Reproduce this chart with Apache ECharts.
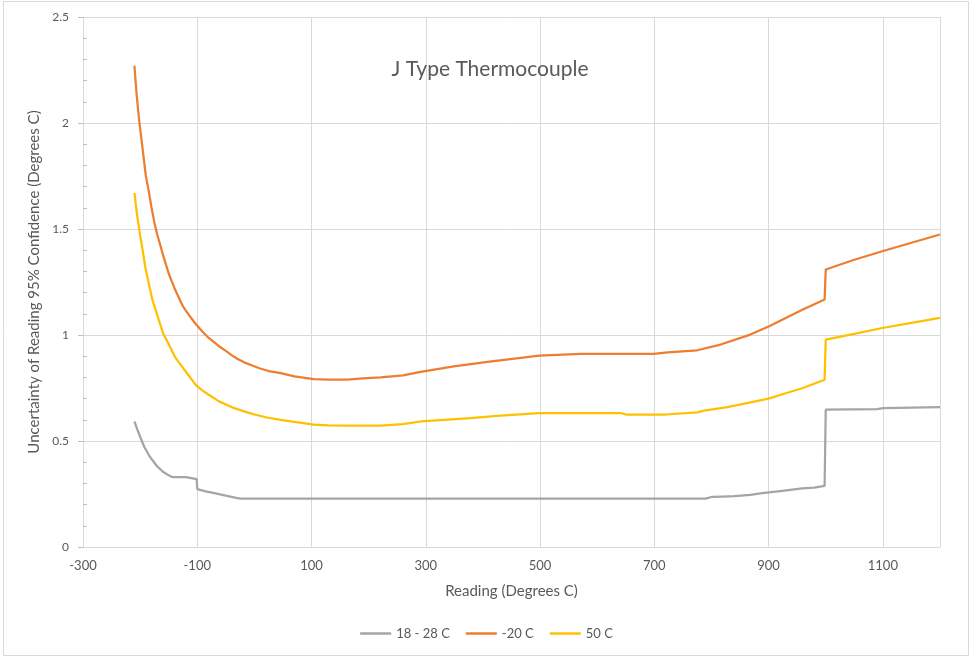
<!DOCTYPE html>
<html>
<head>
<meta charset="utf-8">
<script src="https://cdn.jsdelivr.net/npm/echarts@6/dist/echarts.min.js"></script>
<style>
html,body{margin:0;padding:0;background:#fff;}
#chart{width:973px;height:657px;}
</style>
</head>
<body>
<div id="chart"></div>
<script>
// ---- Data ----
const chartTitle = "J Type Thermocouple";
const xAxisTitle = "Reading (Degrees C)";
const yAxisTitle = "Uncertainty of Reading 95% Confidence (Degrees C)";
const seriesNames = ["18 - 28 C", "-20 C", "50 C"];

const grayT = [-210,-205,-200,-193,-185,-180,-170,-160,-150,-144,-130,-120,-119,-101,-100,-90,-83,-70,-60,-48,-40,-30,-23,790,800,820,840,868,889,924,959,980,998,1000,1090,1100,1200];
const grayV = [0.592,0.555,0.52,0.474,0.435,0.415,0.38,0.355,0.338,0.33,0.33,0.33,0.322,0.32,0.273,0.266,0.261,0.254,0.248,0.241,0.236,0.231,0.228,0.228,0.236,0.238,0.24,0.246,0.254,0.265,0.276,0.28,0.288,0.648,0.65,0.655,0.66];

const orangeT = [-210,-206,-202,-198,-194,-190,-185,-180,-175,-170,-165,-160,-155,-150,-145,-140,-135,-130,-125,-120,-115,-110,-103,-95,-90,-80,-70,-62,-50,-40,-30,-18,-5,10,25,46,70,104,130,163,190,221,260,291,349,408,466,498,571,699,723,775,816,868,900,930,960,998,1000,1050,1099,1150,1200];
const orangeV = [2.27,2.13,2.02,1.93,1.84,1.75,1.68,1.60,1.53,1.473,1.427,1.378,1.334,1.29,1.255,1.222,1.192,1.163,1.135,1.115,1.096,1.078,1.053,1.028,1.013,0.986,0.965,0.947,0.925,0.905,0.888,0.871,0.857,0.842,0.83,0.82,0.805,0.792,0.79,0.79,0.795,0.80,0.81,0.826,0.852,0.873,0.892,0.903,0.911,0.911,0.918,0.928,0.955,1.002,1.04,1.08,1.12,1.167,1.309,1.355,1.395,1.435,1.474];

const yellowT = [-210,-205,-200,-195,-191,-185,-179,-172,-166,-160,-150,-138,-125,-115,-103,-92,-80,-62,-40,-18,0,20,46,70,104,130,163,221,260,291,332,378,425,498,641,650,720,775,787,828,868,900,930,960,998,1000,1050,1099,1150,1200];
const yellowV = [1.67,1.56,1.47,1.39,1.32,1.245,1.17,1.11,1.06,1.01,0.956,0.892,0.845,0.809,0.766,0.74,0.718,0.687,0.66,0.64,0.625,0.612,0.60,0.59,0.577,0.574,0.572,0.572,0.58,0.592,0.60,0.608,0.619,0.632,0.632,0.625,0.625,0.635,0.643,0.66,0.682,0.70,0.725,0.75,0.789,0.978,1.005,1.033,1.057,1.081];

const xTicks = {min: -300, max: 1200, interval: 200};
const yTicks = {min: 0, max: 2.5, interval: 0.5};

function pairs(t, v) { return t.map((x, i) => [x, v[i]]); }

const colors = ["#A5A5A5", "#ED7D31", "#FFC000"];
const txt = "#595959";
const fontFam = "Lato, 'Open Sans', sans-serif";

const chart = echarts.init(document.getElementById('chart'), null, {renderer: 'canvas'});
chart.setOption({
  animation: false,
  backgroundColor: '#ffffff',
  color: colors,
  textStyle: {fontFamily: fontFam},
  title: {
    text: chartTitle,
    left: 485, top: 54, textAlign: 'center',
    textStyle: {fontSize: 21, fontWeight: 'normal', color: txt, fontFamily: fontFam}
  },
  graphic: [{
    type: 'rect', shape: {x: 3.5, y: 1.5, width: 965, height: 654},
    style: {fill: 'none', stroke: '#d9d9d9', lineWidth: 1}, silent: true
  }],
  legend: {
    bottom: 12, left: 'center',
    icon: 'rect',
    itemWidth: 31, itemHeight: 2.5, itemGap: 16,
    textStyle: {fontSize: 13, color: txt, fontFamily: fontFam},
    data: seriesNames
  },
  grid: {left: 83, right: 33, top: 17, bottom: 110, containLabel: false},
  xAxis: {
    type: 'value', min: xTicks.min, max: xTicks.max, interval: xTicks.interval,
    name: xAxisTitle, nameLocation: 'middle', nameGap: 37,
    nameTextStyle: {fontSize: 15, color: txt},
    axisLine: {show: true, onZero: false, lineStyle: {color: '#d9d9d9', width: 1}},
    axisTick: {show: false},
    axisLabel: {color: txt, fontSize: 13, margin: 12, showMaxLabel: false,
      formatter: v => String(v)},
    splitLine: {show: true, lineStyle: {color: '#d9d9d9', width: 1}}
  },
  yAxis: [{
    type: 'value', min: yTicks.min, max: yTicks.max, interval: yTicks.interval,
    name: yAxisTitle, nameLocation: 'middle', nameGap: 40,
    nameTextStyle: {fontSize: 15, color: txt},
    axisLine: {show: true, onZero: false, lineStyle: {color: '#d9d9d9', width: 1}},
    axisTick: {show: true, length: 5, lineStyle: {color: '#bfbfbf'}},
    axisLabel: {color: txt, fontSize: 12, margin: 14, formatter: v => String(v)},
    splitLine: {show: true, lineStyle: {color: '#d9d9d9', width: 1}}
  }, {
    type: 'value', min: yTicks.min, max: yTicks.max, interval: yTicks.interval,
    position: 'left',
    axisLine: {show: false, onZero: false},
    axisTick: {show: false, inside: true},
    minorTick: {show: true, splitNumber: 5, length: 4, lineStyle: {color: '#bfbfbf'}},
    axisLabel: {show: false},
    splitLine: {show: false}
  }],
  series: [
    {name: seriesNames[0], type: 'line', data: pairs(grayT, grayV), symbol: 'none', lineStyle: {width: 2.25, color: colors[0]}, itemStyle: {color: colors[0]}},
    {name: seriesNames[1], type: 'line', data: pairs(orangeT, orangeV), symbol: 'none', lineStyle: {width: 2.25, color: colors[1]}, itemStyle: {color: colors[1]}},
    {name: seriesNames[2], type: 'line', data: pairs(yellowT, yellowV), symbol: 'none', lineStyle: {width: 2.25, color: colors[2]}, itemStyle: {color: colors[2]}}
  ]
});
</script>
</body>
</html>
